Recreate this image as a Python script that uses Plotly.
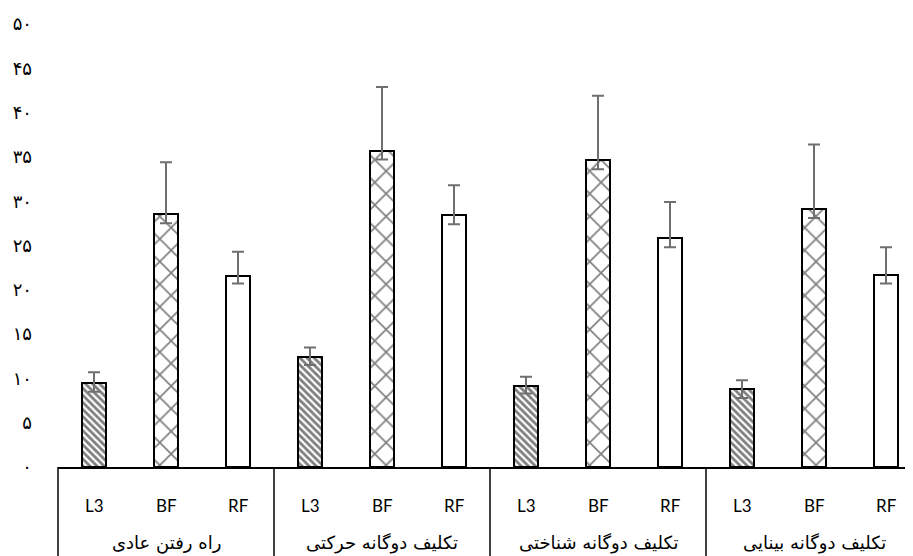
import plotly.graph_objects as go

groups = ["راه رفتن عادی", "تکلیف دوگانه حرکتی", "تکلیف دوگانه شناختی", "تکلیف دوگانه بینایی"]
muscles = ["L3", "BF", "RF"]

# means per group, ordered L3, BF, RF
l3_mean = [9.5, 12.4, 9.1, 8.8]
bf_mean = [28.5, 35.7, 34.6, 29.1]
rf_mean = [21.6, 28.4, 25.8, 21.7]

l3_err_up = [1.2, 1.1, 1.1, 1.0]
bf_err_up = [5.9, 7.2, 7.3, 7.3]
rf_err_up = [2.7, 3.4, 4.1, 3.1]

l3_err_down = [1.0, 0.9, 0.8, 1.0]
bf_err_down = [1.0, 1.0, 1.0, 1.0]
rf_err_down = [0.9, 1.0, 1.0, 1.0]

y_tickvals = [0, 5, 10, 15, 20, 25, 30, 35, 40, 45, 50]
y_ticktext = ["۰", "۵", "۱۰", "۱۵", "۲۰", "۲۵", "۳۰", "۳۵", "۴۰", "۴۵", "۵۰"]

x_outer, x_inner, yv, eu, ed = [], [], [], [], []
shapes_p, sizes, sols = [], [], []
pattern_of = {"L3": "\\", "BF": "x", "RF": ""}
size_of = {"L3": 5, "BF": 16, "RF": 8}
sol_of = {"L3": 0.55, "BF": 0.2, "RF": 0.3}
for gi, g in enumerate(groups):
    for m, mean, up, dn in zip(muscles,
                               [l3_mean[gi], bf_mean[gi], rf_mean[gi]],
                               [l3_err_up[gi], bf_err_up[gi], rf_err_up[gi]],
                               [l3_err_down[gi], bf_err_down[gi], rf_err_down[gi]]):
        x_outer.append(g)
        x_inner.append(m)
        yv.append(mean)
        eu.append(up)
        ed.append(dn)
        shapes_p.append(pattern_of[m])
        sizes.append(size_of[m])
        sols.append(sol_of[m])

x_lo, x_hi = -0.5, 11.375
span = x_hi - x_lo

W, H = 905, 548
ML, MR, MT, MB = 50, 0, 16, 89
plot_h = H - MT - MB

fig = go.Figure(go.Bar(
    x=[x_outer, x_inner],
    y=yv,
    width=0.33,
    marker=dict(
        color="white",
        line=dict(color="black", width=2),
        pattern=dict(shape=shapes_p, size=sizes, solidity=sols,
                     fgcolor="black", bgcolor="white", fillmode="overlay"),
    ),
    error_y=dict(type="data", symmetric=False, array=eu, arrayminus=ed,
                 color="#6f6f6f", thickness=2, width=6),
    showlegend=False,
))

annotations = []
for i, m in enumerate(x_inner):
    annotations.append(dict(
        x=(i - x_lo) / span, y=-38 / plot_h, xref="paper", yref="paper",
        text=m, showarrow=False, xanchor="center", yanchor="middle",
        font=dict(family="Lato", size=17, color="black"),
    ))
for gi, g in enumerate(groups):
    annotations.append(dict(
        x=(gi * 3 + 1 - x_lo) / span, y=-76 / plot_h, xref="paper", yref="paper",
        text=g, showarrow=False, xanchor="center", yanchor="middle",
        font=dict(family="DejaVu Sans", size=18, color="black"),
    ))

dividers = []
for k in range(len(groups) + 1):
    xp = (k * 3 - 0.5 - x_lo) / span
    if xp <= 1.0:
        dividers.append(dict(type="line", xref="paper", yref="paper",
                             x0=xp, x1=xp, y0=0, y1=-MB / plot_h,
                             line=dict(color="black", width=1.5)))

fig.update_layout(
    width=W, height=H,
    margin=dict(l=ML, r=MR, t=MT, b=MB),
    paper_bgcolor="white", plot_bgcolor="white",
    font=dict(family="DejaVu Sans", color="black"),
    bargap=0,
    annotations=annotations,
    shapes=dividers,
)
fig.update_xaxes(
    type="multicategory",
    range=[x_lo, x_hi],
    showline=True, linecolor="black", linewidth=1.5,
    showticklabels=False, showdividers=False,
    showgrid=False, ticks="",
)
fig.update_yaxes(
    range=[0, 50],
    tickvals=y_tickvals, ticktext=y_ticktext,
    tickfont=dict(family="DejaVu Sans", size=18, color="black"),
    showgrid=False, zeroline=False, showline=False,
    ticklabelstandoff=25,
)

fig.write_html("out.html")
